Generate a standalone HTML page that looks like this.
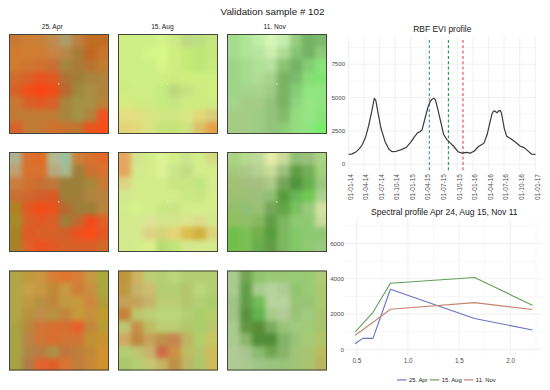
<!DOCTYPE html>
<html><head><meta charset="utf-8"><style>html,body{margin:0;padding:0;background:#fff;width:550px;height:390px;overflow:hidden}svg{display:block}</style></head>
<body>
<svg width="550" height="390" viewBox="0 0 550 390" font-family="Liberation Sans, sans-serif">
<rect width="550" height="390" fill="#fff"/>
<defs><filter id="bl" x="-0.1" y="-0.1" width="1.2" height="1.2" color-interpolation-filters="sRGB"><feGaussianBlur stdDeviation="2.5"/></filter></defs>
<g>
<clipPath id="c00"><rect x="9" y="34" width="100" height="100"/></clipPath>
<g clip-path="url(#c00)"><g filter="url(#bl)" shape-rendering="crispEdges">
<rect x="1.00" y="26.00" width="21.00" height="21.00" fill="#c87934"/>
<rect x="21.50" y="26.00" width="13.00" height="21.00" fill="#d07d34"/>
<rect x="34.00" y="26.00" width="13.00" height="21.00" fill="#c88139"/>
<rect x="46.50" y="26.00" width="13.00" height="21.00" fill="#c08a4c"/>
<rect x="59.00" y="26.00" width="13.00" height="21.00" fill="#ac9c68"/>
<rect x="71.50" y="26.00" width="13.00" height="21.00" fill="#bc8040"/>
<rect x="84.00" y="26.00" width="13.00" height="21.00" fill="#c06e24"/>
<rect x="96.50" y="26.00" width="21.00" height="21.00" fill="#c06e24"/>
<rect x="1.00" y="46.50" width="21.00" height="13.00" fill="#d07b2f"/>
<rect x="21.50" y="46.50" width="13.00" height="13.00" fill="#d07e31"/>
<rect x="34.00" y="46.50" width="13.00" height="13.00" fill="#d07d34"/>
<rect x="46.50" y="46.50" width="13.00" height="13.00" fill="#c88444"/>
<rect x="59.00" y="46.50" width="13.00" height="13.00" fill="#b88848"/>
<rect x="71.50" y="46.50" width="13.00" height="13.00" fill="#a87c39"/>
<rect x="84.00" y="46.50" width="13.00" height="13.00" fill="#c0671f"/>
<rect x="96.50" y="46.50" width="21.00" height="13.00" fill="#c8742a"/>
<rect x="1.00" y="59.00" width="21.00" height="13.00" fill="#d07b2f"/>
<rect x="21.50" y="59.00" width="13.00" height="13.00" fill="#d0762f"/>
<rect x="34.00" y="59.00" width="13.00" height="13.00" fill="#d0712f"/>
<rect x="46.50" y="59.00" width="13.00" height="13.00" fill="#c86f34"/>
<rect x="59.00" y="59.00" width="13.00" height="13.00" fill="#a8853e"/>
<rect x="71.50" y="59.00" width="13.00" height="13.00" fill="#a87c39"/>
<rect x="84.00" y="59.00" width="13.00" height="13.00" fill="#b8732f"/>
<rect x="96.50" y="59.00" width="21.00" height="13.00" fill="#c07c2f"/>
<rect x="1.00" y="71.50" width="21.00" height="13.00" fill="#d06c2f"/>
<rect x="21.50" y="71.50" width="13.00" height="13.00" fill="#d8612a"/>
<rect x="34.00" y="71.50" width="13.00" height="13.00" fill="#e8541f"/>
<rect x="46.50" y="71.50" width="13.00" height="13.00" fill="#e05a24"/>
<rect x="59.00" y="71.50" width="13.00" height="13.00" fill="#b07234"/>
<rect x="71.50" y="71.50" width="13.00" height="13.00" fill="#a07e39"/>
<rect x="84.00" y="71.50" width="13.00" height="13.00" fill="#a8853e"/>
<rect x="96.50" y="71.50" width="21.00" height="13.00" fill="#b0833e"/>
<rect x="1.00" y="84.00" width="21.00" height="13.00" fill="#d8612a"/>
<rect x="21.50" y="84.00" width="13.00" height="13.00" fill="#f0501a"/>
<rect x="34.00" y="84.00" width="13.00" height="13.00" fill="#f84715"/>
<rect x="46.50" y="84.00" width="13.00" height="13.00" fill="#f04d1a"/>
<rect x="59.00" y="84.00" width="13.00" height="13.00" fill="#b86a2f"/>
<rect x="71.50" y="84.00" width="13.00" height="13.00" fill="#a0883e"/>
<rect x="84.00" y="84.00" width="13.00" height="13.00" fill="#a88f44"/>
<rect x="96.50" y="84.00" width="21.00" height="13.00" fill="#b0833e"/>
<rect x="1.00" y="96.50" width="21.00" height="13.00" fill="#c87934"/>
<rect x="21.50" y="96.50" width="13.00" height="13.00" fill="#d8612a"/>
<rect x="34.00" y="96.50" width="13.00" height="13.00" fill="#e05a24"/>
<rect x="46.50" y="96.50" width="13.00" height="13.00" fill="#d8612a"/>
<rect x="59.00" y="96.50" width="13.00" height="13.00" fill="#a8853e"/>
<rect x="71.50" y="96.50" width="13.00" height="13.00" fill="#a09344"/>
<rect x="84.00" y="96.50" width="13.00" height="13.00" fill="#a88f44"/>
<rect x="96.50" y="96.50" width="21.00" height="13.00" fill="#b88339"/>
<rect x="1.00" y="109.00" width="21.00" height="13.00" fill="#c07a34"/>
<rect x="21.50" y="109.00" width="13.00" height="13.00" fill="#c07a34"/>
<rect x="34.00" y="109.00" width="13.00" height="13.00" fill="#c07a34"/>
<rect x="46.50" y="109.00" width="13.00" height="13.00" fill="#c07a34"/>
<rect x="59.00" y="109.00" width="13.00" height="13.00" fill="#a8853e"/>
<rect x="71.50" y="109.00" width="13.00" height="13.00" fill="#a09344"/>
<rect x="84.00" y="109.00" width="13.00" height="13.00" fill="#b0833e"/>
<rect x="96.50" y="109.00" width="21.00" height="13.00" fill="#f0531f"/>
<rect x="1.00" y="121.50" width="21.00" height="21.00" fill="#d8612a"/>
<rect x="21.50" y="121.50" width="13.00" height="21.00" fill="#c07a34"/>
<rect x="34.00" y="121.50" width="13.00" height="21.00" fill="#c07a34"/>
<rect x="46.50" y="121.50" width="13.00" height="21.00" fill="#d0712f"/>
<rect x="59.00" y="121.50" width="13.00" height="21.00" fill="#c8722f"/>
<rect x="71.50" y="121.50" width="13.00" height="21.00" fill="#c0732f"/>
<rect x="84.00" y="121.50" width="13.00" height="21.00" fill="#e8541f"/>
<rect x="96.50" y="121.50" width="21.00" height="21.00" fill="#f84f1a"/>
</g></g>
<circle cx="58.7" cy="83.8" r="0.9" fill="#fff0c8" fill-opacity="0.6"/>
<rect x="9.5" y="34.5" width="99" height="99" fill="none" stroke="#45453c" stroke-width="1"/>
</g>
<g>
<clipPath id="c01"><rect x="118" y="34" width="100" height="100"/></clipPath>
<g clip-path="url(#c01)"><g filter="url(#bl)" shape-rendering="crispEdges">
<rect x="110.00" y="26.00" width="21.00" height="21.00" fill="#ceef85"/>
<rect x="130.50" y="26.00" width="13.00" height="21.00" fill="#ceef85"/>
<rect x="143.00" y="26.00" width="13.00" height="21.00" fill="#ceef85"/>
<rect x="155.50" y="26.00" width="13.00" height="21.00" fill="#d2f489"/>
<rect x="168.00" y="26.00" width="13.00" height="21.00" fill="#ceeb86"/>
<rect x="180.50" y="26.00" width="13.00" height="21.00" fill="#bdda83"/>
<rect x="193.00" y="26.00" width="13.00" height="21.00" fill="#bddf83"/>
<rect x="205.50" y="26.00" width="21.00" height="21.00" fill="#c5e782"/>
<rect x="110.00" y="46.50" width="21.00" height="13.00" fill="#ceef85"/>
<rect x="130.50" y="46.50" width="13.00" height="13.00" fill="#ceef85"/>
<rect x="143.00" y="46.50" width="13.00" height="13.00" fill="#d2f489"/>
<rect x="155.50" y="46.50" width="13.00" height="13.00" fill="#d6f889"/>
<rect x="168.00" y="46.50" width="13.00" height="13.00" fill="#ceef80"/>
<rect x="180.50" y="46.50" width="13.00" height="13.00" fill="#c5eb77"/>
<rect x="193.00" y="46.50" width="13.00" height="13.00" fill="#bce778"/>
<rect x="205.50" y="46.50" width="21.00" height="13.00" fill="#c5e778"/>
<rect x="110.00" y="59.00" width="21.00" height="13.00" fill="#ceef85"/>
<rect x="130.50" y="59.00" width="13.00" height="13.00" fill="#ceef85"/>
<rect x="143.00" y="59.00" width="13.00" height="13.00" fill="#ceef85"/>
<rect x="155.50" y="59.00" width="13.00" height="13.00" fill="#d7f489"/>
<rect x="168.00" y="59.00" width="13.00" height="13.00" fill="#ceef80"/>
<rect x="180.50" y="59.00" width="13.00" height="13.00" fill="#c5eb77"/>
<rect x="193.00" y="59.00" width="13.00" height="13.00" fill="#bce778"/>
<rect x="205.50" y="59.00" width="21.00" height="13.00" fill="#c5eb81"/>
<rect x="110.00" y="71.50" width="21.00" height="13.00" fill="#ceef85"/>
<rect x="130.50" y="71.50" width="13.00" height="13.00" fill="#ceef85"/>
<rect x="143.00" y="71.50" width="13.00" height="13.00" fill="#ceef85"/>
<rect x="155.50" y="71.50" width="13.00" height="13.00" fill="#ceef85"/>
<rect x="168.00" y="71.50" width="13.00" height="13.00" fill="#ceeb81"/>
<rect x="180.50" y="71.50" width="13.00" height="13.00" fill="#ceef80"/>
<rect x="193.00" y="71.50" width="13.00" height="13.00" fill="#ceef80"/>
<rect x="205.50" y="71.50" width="21.00" height="13.00" fill="#ceef80"/>
<rect x="110.00" y="84.00" width="21.00" height="13.00" fill="#ceeb81"/>
<rect x="130.50" y="84.00" width="13.00" height="13.00" fill="#ceef85"/>
<rect x="143.00" y="84.00" width="13.00" height="13.00" fill="#ceef85"/>
<rect x="155.50" y="84.00" width="13.00" height="13.00" fill="#c5eb81"/>
<rect x="168.00" y="84.00" width="13.00" height="13.00" fill="#bdda7a"/>
<rect x="180.50" y="84.00" width="13.00" height="13.00" fill="#c6e382"/>
<rect x="193.00" y="84.00" width="13.00" height="13.00" fill="#ceeb81"/>
<rect x="205.50" y="84.00" width="21.00" height="13.00" fill="#ceef80"/>
<rect x="110.00" y="96.50" width="21.00" height="13.00" fill="#d8eb81"/>
<rect x="130.50" y="96.50" width="13.00" height="13.00" fill="#ceeb81"/>
<rect x="143.00" y="96.50" width="13.00" height="13.00" fill="#ceeb81"/>
<rect x="155.50" y="96.50" width="13.00" height="13.00" fill="#c5eb81"/>
<rect x="168.00" y="96.50" width="13.00" height="13.00" fill="#c5e782"/>
<rect x="180.50" y="96.50" width="13.00" height="13.00" fill="#ceeb81"/>
<rect x="193.00" y="96.50" width="13.00" height="13.00" fill="#ceeb81"/>
<rect x="205.50" y="96.50" width="21.00" height="13.00" fill="#ceeb81"/>
<rect x="110.00" y="109.00" width="21.00" height="13.00" fill="#e3de82"/>
<rect x="130.50" y="109.00" width="13.00" height="13.00" fill="#e3de82"/>
<rect x="143.00" y="109.00" width="13.00" height="13.00" fill="#d9e382"/>
<rect x="155.50" y="109.00" width="13.00" height="13.00" fill="#cfe782"/>
<rect x="168.00" y="109.00" width="13.00" height="13.00" fill="#cfe782"/>
<rect x="180.50" y="109.00" width="13.00" height="13.00" fill="#d9e782"/>
<rect x="193.00" y="109.00" width="13.00" height="13.00" fill="#e3d979"/>
<rect x="205.50" y="109.00" width="21.00" height="13.00" fill="#d8cc78"/>
<rect x="110.00" y="121.50" width="21.00" height="21.00" fill="#e3d479"/>
<rect x="130.50" y="121.50" width="13.00" height="21.00" fill="#e3d979"/>
<rect x="143.00" y="121.50" width="13.00" height="21.00" fill="#d9e382"/>
<rect x="155.50" y="121.50" width="13.00" height="21.00" fill="#c6e379"/>
<rect x="168.00" y="121.50" width="13.00" height="21.00" fill="#c6e379"/>
<rect x="180.50" y="121.50" width="13.00" height="21.00" fill="#cfe382"/>
<rect x="193.00" y="121.50" width="13.00" height="21.00" fill="#dcc068"/>
<rect x="205.50" y="121.50" width="21.00" height="21.00" fill="#e8a048"/>
</g></g>
<circle cx="167.7" cy="83.8" r="0.9" fill="#fff0c8" fill-opacity="0.6"/>
<rect x="118.5" y="34.5" width="99" height="99" fill="none" stroke="#45453c" stroke-width="1"/>
</g>
<g>
<clipPath id="c02"><rect x="227" y="34" width="100" height="100"/></clipPath>
<g clip-path="url(#c02)"><g filter="url(#bl)" shape-rendering="crispEdges">
<rect x="219.00" y="26.00" width="21.00" height="21.00" fill="#a6dc8e"/>
<rect x="239.50" y="26.00" width="13.00" height="21.00" fill="#aee597"/>
<rect x="252.00" y="26.00" width="13.00" height="21.00" fill="#bfeda7"/>
<rect x="264.50" y="26.00" width="13.00" height="21.00" fill="#d7f6b8"/>
<rect x="277.00" y="26.00" width="13.00" height="21.00" fill="#c6edaf"/>
<rect x="289.50" y="26.00" width="13.00" height="21.00" fill="#95cc7e"/>
<rect x="302.00" y="26.00" width="13.00" height="21.00" fill="#74b264"/>
<rect x="314.50" y="26.00" width="21.00" height="21.00" fill="#7cbb6d"/>
<rect x="219.00" y="46.50" width="21.00" height="13.00" fill="#a6dc8e"/>
<rect x="239.50" y="46.50" width="13.00" height="13.00" fill="#aee597"/>
<rect x="252.00" y="46.50" width="13.00" height="13.00" fill="#b6e59f"/>
<rect x="264.50" y="46.50" width="13.00" height="13.00" fill="#ceedaf"/>
<rect x="277.00" y="46.50" width="13.00" height="13.00" fill="#aedc96"/>
<rect x="289.50" y="46.50" width="13.00" height="13.00" fill="#85c375"/>
<rect x="302.00" y="46.50" width="13.00" height="13.00" fill="#74b264"/>
<rect x="314.50" y="46.50" width="21.00" height="13.00" fill="#8dcc76"/>
<rect x="219.00" y="59.00" width="21.00" height="13.00" fill="#9dd486"/>
<rect x="239.50" y="59.00" width="13.00" height="13.00" fill="#a6dc8e"/>
<rect x="252.00" y="59.00" width="13.00" height="13.00" fill="#aee197"/>
<rect x="264.50" y="59.00" width="13.00" height="13.00" fill="#b6e19e"/>
<rect x="277.00" y="59.00" width="13.00" height="13.00" fill="#8cc375"/>
<rect x="289.50" y="59.00" width="13.00" height="13.00" fill="#74b264"/>
<rect x="302.00" y="59.00" width="13.00" height="13.00" fill="#85cc76"/>
<rect x="314.50" y="59.00" width="21.00" height="13.00" fill="#87e578"/>
<rect x="219.00" y="71.50" width="21.00" height="13.00" fill="#9dd486"/>
<rect x="239.50" y="71.50" width="13.00" height="13.00" fill="#a6dc8e"/>
<rect x="252.00" y="71.50" width="13.00" height="13.00" fill="#aedc96"/>
<rect x="264.50" y="71.50" width="13.00" height="13.00" fill="#a5d48e"/>
<rect x="277.00" y="71.50" width="13.00" height="13.00" fill="#7bb264"/>
<rect x="289.50" y="71.50" width="13.00" height="13.00" fill="#7cbb6d"/>
<rect x="302.00" y="71.50" width="13.00" height="13.00" fill="#87dc77"/>
<rect x="314.50" y="71.50" width="21.00" height="13.00" fill="#80e570"/>
<rect x="219.00" y="84.00" width="21.00" height="13.00" fill="#9dd486"/>
<rect x="239.50" y="84.00" width="13.00" height="13.00" fill="#a5d48e"/>
<rect x="252.00" y="84.00" width="13.00" height="13.00" fill="#a5d48e"/>
<rect x="264.50" y="84.00" width="13.00" height="13.00" fill="#9dcc85"/>
<rect x="277.00" y="84.00" width="13.00" height="13.00" fill="#7bb264"/>
<rect x="289.50" y="84.00" width="13.00" height="13.00" fill="#85cc76"/>
<rect x="302.00" y="84.00" width="13.00" height="13.00" fill="#8fe580"/>
<rect x="314.50" y="84.00" width="21.00" height="13.00" fill="#8fe580"/>
<rect x="219.00" y="96.50" width="21.00" height="13.00" fill="#a5d48e"/>
<rect x="239.50" y="96.50" width="13.00" height="13.00" fill="#a5cc85"/>
<rect x="252.00" y="96.50" width="13.00" height="13.00" fill="#a5cc85"/>
<rect x="264.50" y="96.50" width="13.00" height="13.00" fill="#94c37d"/>
<rect x="277.00" y="96.50" width="13.00" height="13.00" fill="#7bb264"/>
<rect x="289.50" y="96.50" width="13.00" height="13.00" fill="#8ed47e"/>
<rect x="302.00" y="96.50" width="13.00" height="13.00" fill="#97e587"/>
<rect x="314.50" y="96.50" width="21.00" height="13.00" fill="#8fe580"/>
<rect x="219.00" y="109.00" width="21.00" height="13.00" fill="#a5cc85"/>
<rect x="239.50" y="109.00" width="13.00" height="13.00" fill="#a5cc85"/>
<rect x="252.00" y="109.00" width="13.00" height="13.00" fill="#9dcc85"/>
<rect x="264.50" y="109.00" width="13.00" height="13.00" fill="#94c37d"/>
<rect x="277.00" y="109.00" width="13.00" height="13.00" fill="#84bb6d"/>
<rect x="289.50" y="109.00" width="13.00" height="13.00" fill="#96dc7f"/>
<rect x="302.00" y="109.00" width="13.00" height="13.00" fill="#97e587"/>
<rect x="314.50" y="109.00" width="21.00" height="13.00" fill="#87e578"/>
<rect x="219.00" y="121.50" width="21.00" height="21.00" fill="#a5cc85"/>
<rect x="239.50" y="121.50" width="13.00" height="21.00" fill="#a5cc85"/>
<rect x="252.00" y="121.50" width="13.00" height="21.00" fill="#9dcc85"/>
<rect x="264.50" y="121.50" width="13.00" height="21.00" fill="#94c37d"/>
<rect x="277.00" y="121.50" width="13.00" height="21.00" fill="#8dcc76"/>
<rect x="289.50" y="121.50" width="13.00" height="21.00" fill="#96dc7f"/>
<rect x="302.00" y="121.50" width="13.00" height="21.00" fill="#8fe580"/>
<rect x="314.50" y="121.50" width="21.00" height="21.00" fill="#78ed69"/>
</g></g>
<circle cx="276.7" cy="83.8" r="0.9" fill="#fff0c8" fill-opacity="0.6"/>
<rect x="227.5" y="34.5" width="99" height="99" fill="none" stroke="#45453c" stroke-width="1"/>
</g>
<g>
<clipPath id="c10"><rect x="9" y="152" width="100" height="100"/></clipPath>
<g clip-path="url(#c10)"><g filter="url(#bl)" shape-rendering="crispEdges">
<rect x="1.00" y="144.00" width="21.00" height="21.00" fill="#b0b090"/>
<rect x="21.50" y="144.00" width="13.00" height="21.00" fill="#d9712f"/>
<rect x="34.00" y="144.00" width="13.00" height="21.00" fill="#e16c24"/>
<rect x="46.50" y="144.00" width="13.00" height="21.00" fill="#b4b890"/>
<rect x="59.00" y="144.00" width="13.00" height="21.00" fill="#a0c09c"/>
<rect x="71.50" y="144.00" width="13.00" height="21.00" fill="#c8823a"/>
<rect x="84.00" y="144.00" width="13.00" height="21.00" fill="#d9712f"/>
<rect x="96.50" y="144.00" width="21.00" height="21.00" fill="#e16929"/>
<rect x="1.00" y="164.50" width="21.00" height="13.00" fill="#c0a070"/>
<rect x="21.50" y="164.50" width="13.00" height="13.00" fill="#d9712f"/>
<rect x="34.00" y="164.50" width="13.00" height="13.00" fill="#d9712f"/>
<rect x="46.50" y="164.50" width="13.00" height="13.00" fill="#b8a880"/>
<rect x="59.00" y="164.50" width="13.00" height="13.00" fill="#a8b890"/>
<rect x="71.50" y="164.50" width="13.00" height="13.00" fill="#9e7f3a"/>
<rect x="84.00" y="164.50" width="13.00" height="13.00" fill="#c8722f"/>
<rect x="96.50" y="164.50" width="21.00" height="13.00" fill="#d9712f"/>
<rect x="1.00" y="177.00" width="21.00" height="13.00" fill="#c87f3f"/>
<rect x="21.50" y="177.00" width="13.00" height="13.00" fill="#d0712f"/>
<rect x="34.00" y="177.00" width="13.00" height="13.00" fill="#c86f34"/>
<rect x="46.50" y="177.00" width="13.00" height="13.00" fill="#c0783a"/>
<rect x="59.00" y="177.00" width="13.00" height="13.00" fill="#9e7f3a"/>
<rect x="71.50" y="177.00" width="13.00" height="13.00" fill="#9e7f3a"/>
<rect x="84.00" y="177.00" width="13.00" height="13.00" fill="#a6883a"/>
<rect x="96.50" y="177.00" width="21.00" height="13.00" fill="#c87a34"/>
<rect x="1.00" y="189.50" width="21.00" height="13.00" fill="#c86f34"/>
<rect x="21.50" y="189.50" width="13.00" height="13.00" fill="#d0672f"/>
<rect x="34.00" y="189.50" width="13.00" height="13.00" fill="#d06029"/>
<rect x="46.50" y="189.50" width="13.00" height="13.00" fill="#d95924"/>
<rect x="59.00" y="189.50" width="13.00" height="13.00" fill="#9e7f3a"/>
<rect x="71.50" y="189.50" width="13.00" height="13.00" fill="#9e7f3a"/>
<rect x="84.00" y="189.50" width="13.00" height="13.00" fill="#af843f"/>
<rect x="96.50" y="189.50" width="21.00" height="13.00" fill="#b7823f"/>
<rect x="1.00" y="202.00" width="21.00" height="13.00" fill="#af8224"/>
<rect x="21.50" y="202.00" width="13.00" height="13.00" fill="#e15924"/>
<rect x="34.00" y="202.00" width="13.00" height="13.00" fill="#f24e19"/>
<rect x="46.50" y="202.00" width="13.00" height="13.00" fill="#ea521e"/>
<rect x="59.00" y="202.00" width="13.00" height="13.00" fill="#b7692f"/>
<rect x="71.50" y="202.00" width="13.00" height="13.00" fill="#9e7f3a"/>
<rect x="84.00" y="202.00" width="13.00" height="13.00" fill="#9e7f3a"/>
<rect x="96.50" y="202.00" width="21.00" height="13.00" fill="#b7843a"/>
<rect x="1.00" y="214.50" width="21.00" height="13.00" fill="#a68c29"/>
<rect x="21.50" y="214.50" width="13.00" height="13.00" fill="#d96029"/>
<rect x="34.00" y="214.50" width="13.00" height="13.00" fill="#e15924"/>
<rect x="46.50" y="214.50" width="13.00" height="13.00" fill="#d96029"/>
<rect x="59.00" y="214.50" width="13.00" height="13.00" fill="#9e7f3a"/>
<rect x="71.50" y="214.50" width="13.00" height="13.00" fill="#c0692f"/>
<rect x="84.00" y="214.50" width="13.00" height="13.00" fill="#f24c19"/>
<rect x="96.50" y="214.50" width="21.00" height="13.00" fill="#e16029"/>
<rect x="1.00" y="227.00" width="21.00" height="13.00" fill="#a68324"/>
<rect x="21.50" y="227.00" width="13.00" height="13.00" fill="#e15924"/>
<rect x="34.00" y="227.00" width="13.00" height="13.00" fill="#d96029"/>
<rect x="46.50" y="227.00" width="13.00" height="13.00" fill="#d96029"/>
<rect x="59.00" y="227.00" width="13.00" height="13.00" fill="#d06029"/>
<rect x="71.50" y="227.00" width="13.00" height="13.00" fill="#ea521e"/>
<rect x="84.00" y="227.00" width="13.00" height="13.00" fill="#fa4c19"/>
<rect x="96.50" y="227.00" width="21.00" height="13.00" fill="#e15924"/>
<rect x="1.00" y="239.50" width="21.00" height="21.00" fill="#a68324"/>
<rect x="21.50" y="239.50" width="13.00" height="21.00" fill="#e16029"/>
<rect x="34.00" y="239.50" width="13.00" height="21.00" fill="#ea521e"/>
<rect x="46.50" y="239.50" width="13.00" height="21.00" fill="#e15924"/>
<rect x="59.00" y="239.50" width="13.00" height="21.00" fill="#d96029"/>
<rect x="71.50" y="239.50" width="13.00" height="21.00" fill="#d96029"/>
<rect x="84.00" y="239.50" width="13.00" height="21.00" fill="#d96029"/>
<rect x="96.50" y="239.50" width="21.00" height="21.00" fill="#d06a29"/>
</g></g>
<circle cx="58.7" cy="201.8" r="0.9" fill="#fff0c8" fill-opacity="0.6"/>
<rect x="9.5" y="152.5" width="99" height="99" fill="none" stroke="#45453c" stroke-width="1"/>
</g>
<g>
<clipPath id="c11"><rect x="118" y="152" width="100" height="100"/></clipPath>
<g clip-path="url(#c11)"><g filter="url(#bl)" shape-rendering="crispEdges">
<rect x="110.00" y="144.00" width="21.00" height="21.00" fill="#e5a75f"/>
<rect x="130.50" y="144.00" width="13.00" height="21.00" fill="#d3e58c"/>
<rect x="143.00" y="144.00" width="13.00" height="21.00" fill="#d3ed8b"/>
<rect x="155.50" y="144.00" width="13.00" height="21.00" fill="#dbf294"/>
<rect x="168.00" y="144.00" width="13.00" height="21.00" fill="#d3ed8b"/>
<rect x="180.50" y="144.00" width="13.00" height="21.00" fill="#cae58c"/>
<rect x="193.00" y="144.00" width="13.00" height="21.00" fill="#d3ed8b"/>
<rect x="205.50" y="144.00" width="21.00" height="21.00" fill="#d4dc83"/>
<rect x="110.00" y="164.50" width="21.00" height="13.00" fill="#e5a75f"/>
<rect x="130.50" y="164.50" width="13.00" height="13.00" fill="#d3e98c"/>
<rect x="143.00" y="164.50" width="13.00" height="13.00" fill="#d3ed8b"/>
<rect x="155.50" y="164.50" width="13.00" height="13.00" fill="#dbf294"/>
<rect x="168.00" y="164.50" width="13.00" height="13.00" fill="#cae58c"/>
<rect x="180.50" y="164.50" width="13.00" height="13.00" fill="#c2dc83"/>
<rect x="193.00" y="164.50" width="13.00" height="13.00" fill="#d3ed8b"/>
<rect x="205.50" y="164.50" width="21.00" height="13.00" fill="#d3ed8b"/>
<rect x="110.00" y="177.00" width="21.00" height="13.00" fill="#dcd483"/>
<rect x="130.50" y="177.00" width="13.00" height="13.00" fill="#d3ed8b"/>
<rect x="143.00" y="177.00" width="13.00" height="13.00" fill="#d3ed8b"/>
<rect x="155.50" y="177.00" width="13.00" height="13.00" fill="#d3ed8b"/>
<rect x="168.00" y="177.00" width="13.00" height="13.00" fill="#cae583"/>
<rect x="180.50" y="177.00" width="13.00" height="13.00" fill="#cae583"/>
<rect x="193.00" y="177.00" width="13.00" height="13.00" fill="#c1e583"/>
<rect x="205.50" y="177.00" width="21.00" height="13.00" fill="#d3ed8b"/>
<rect x="110.00" y="189.50" width="21.00" height="13.00" fill="#d3e98c"/>
<rect x="130.50" y="189.50" width="13.00" height="13.00" fill="#d3ed8b"/>
<rect x="143.00" y="189.50" width="13.00" height="13.00" fill="#d3ed8b"/>
<rect x="155.50" y="189.50" width="13.00" height="13.00" fill="#d3ed8b"/>
<rect x="168.00" y="189.50" width="13.00" height="13.00" fill="#d3ed8b"/>
<rect x="180.50" y="189.50" width="13.00" height="13.00" fill="#cae983"/>
<rect x="193.00" y="189.50" width="13.00" height="13.00" fill="#cae583"/>
<rect x="205.50" y="189.50" width="21.00" height="13.00" fill="#d3ed8b"/>
<rect x="110.00" y="202.00" width="21.00" height="13.00" fill="#d3ed8b"/>
<rect x="130.50" y="202.00" width="13.00" height="13.00" fill="#d3f28b"/>
<rect x="143.00" y="202.00" width="13.00" height="13.00" fill="#d3ed8b"/>
<rect x="155.50" y="202.00" width="13.00" height="13.00" fill="#cae983"/>
<rect x="168.00" y="202.00" width="13.00" height="13.00" fill="#cae583"/>
<rect x="180.50" y="202.00" width="13.00" height="13.00" fill="#d3ed8b"/>
<rect x="193.00" y="202.00" width="13.00" height="13.00" fill="#d3ed8b"/>
<rect x="205.50" y="202.00" width="21.00" height="13.00" fill="#d3ed8b"/>
<rect x="110.00" y="214.50" width="21.00" height="13.00" fill="#d3e98c"/>
<rect x="130.50" y="214.50" width="13.00" height="13.00" fill="#d3e98c"/>
<rect x="143.00" y="214.50" width="13.00" height="13.00" fill="#dce595"/>
<rect x="155.50" y="214.50" width="13.00" height="13.00" fill="#d3e58c"/>
<rect x="168.00" y="214.50" width="13.00" height="13.00" fill="#d3e58c"/>
<rect x="180.50" y="214.50" width="13.00" height="13.00" fill="#dce58c"/>
<rect x="193.00" y="214.50" width="13.00" height="13.00" fill="#dcdc8c"/>
<rect x="205.50" y="214.50" width="21.00" height="13.00" fill="#d3e98c"/>
<rect x="110.00" y="227.00" width="21.00" height="13.00" fill="#d3e98c"/>
<rect x="130.50" y="227.00" width="13.00" height="13.00" fill="#d3e98c"/>
<rect x="143.00" y="227.00" width="13.00" height="13.00" fill="#dcd483"/>
<rect x="155.50" y="227.00" width="13.00" height="13.00" fill="#d4d47b"/>
<rect x="168.00" y="227.00" width="13.00" height="13.00" fill="#e5d37a"/>
<rect x="180.50" y="227.00" width="13.00" height="13.00" fill="#dcbd4e"/>
<rect x="193.00" y="227.00" width="13.00" height="13.00" fill="#d0b13d"/>
<rect x="205.50" y="227.00" width="21.00" height="13.00" fill="#dcd47b"/>
<rect x="110.00" y="239.50" width="21.00" height="21.00" fill="#d3e98c"/>
<rect x="130.50" y="239.50" width="13.00" height="21.00" fill="#d3ed8b"/>
<rect x="143.00" y="239.50" width="13.00" height="21.00" fill="#dced8b"/>
<rect x="155.50" y="239.50" width="13.00" height="21.00" fill="#b9dc72"/>
<rect x="168.00" y="239.50" width="13.00" height="21.00" fill="#c1e57a"/>
<rect x="180.50" y="239.50" width="13.00" height="21.00" fill="#d3e98c"/>
<rect x="193.00" y="239.50" width="13.00" height="21.00" fill="#d3e98c"/>
<rect x="205.50" y="239.50" width="21.00" height="21.00" fill="#d3e98c"/>
</g></g>
<circle cx="167.7" cy="201.8" r="0.9" fill="#fff0c8" fill-opacity="0.6"/>
<rect x="118.5" y="152.5" width="99" height="99" fill="none" stroke="#45453c" stroke-width="1"/>
</g>
<g>
<clipPath id="c12"><rect x="227" y="152" width="100" height="100"/></clipPath>
<g clip-path="url(#c12)"><g filter="url(#bl)" shape-rendering="crispEdges">
<rect x="219.00" y="144.00" width="21.00" height="21.00" fill="#acd285"/>
<rect x="239.50" y="144.00" width="13.00" height="21.00" fill="#b5da8e"/>
<rect x="252.00" y="144.00" width="13.00" height="21.00" fill="#c0da99"/>
<rect x="264.50" y="144.00" width="13.00" height="21.00" fill="#e6ecaa"/>
<rect x="277.00" y="144.00" width="13.00" height="21.00" fill="#cada99"/>
<rect x="289.50" y="144.00" width="13.00" height="21.00" fill="#90c074"/>
<rect x="302.00" y="144.00" width="13.00" height="21.00" fill="#9bc07e"/>
<rect x="314.50" y="144.00" width="21.00" height="21.00" fill="#acd285"/>
<rect x="219.00" y="164.50" width="21.00" height="13.00" fill="#a3c97d"/>
<rect x="239.50" y="164.50" width="13.00" height="13.00" fill="#aec987"/>
<rect x="252.00" y="164.50" width="13.00" height="13.00" fill="#b7d290"/>
<rect x="264.50" y="164.50" width="13.00" height="13.00" fill="#cada99"/>
<rect x="277.00" y="164.50" width="13.00" height="13.00" fill="#9bc07e"/>
<rect x="289.50" y="164.50" width="13.00" height="13.00" fill="#629d46"/>
<rect x="302.00" y="164.50" width="13.00" height="13.00" fill="#74ae58"/>
<rect x="314.50" y="164.50" width="21.00" height="13.00" fill="#a2d27b"/>
<rect x="219.00" y="177.00" width="21.00" height="13.00" fill="#a5c074"/>
<rect x="239.50" y="177.00" width="13.00" height="13.00" fill="#a5c07e"/>
<rect x="252.00" y="177.00" width="13.00" height="13.00" fill="#a5c07e"/>
<rect x="264.50" y="177.00" width="13.00" height="13.00" fill="#aec987"/>
<rect x="277.00" y="177.00" width="13.00" height="13.00" fill="#76a659"/>
<rect x="289.50" y="177.00" width="13.00" height="13.00" fill="#4f943d"/>
<rect x="302.00" y="177.00" width="13.00" height="13.00" fill="#69ae4d"/>
<rect x="314.50" y="177.00" width="21.00" height="13.00" fill="#99c97d"/>
<rect x="219.00" y="189.50" width="21.00" height="13.00" fill="#9bc074"/>
<rect x="239.50" y="189.50" width="13.00" height="13.00" fill="#9bc074"/>
<rect x="252.00" y="189.50" width="13.00" height="13.00" fill="#9bc07e"/>
<rect x="264.50" y="189.50" width="13.00" height="13.00" fill="#90c074"/>
<rect x="277.00" y="189.50" width="13.00" height="13.00" fill="#589d3b"/>
<rect x="289.50" y="189.50" width="13.00" height="13.00" fill="#68b756"/>
<rect x="302.00" y="189.50" width="13.00" height="13.00" fill="#6fc952"/>
<rect x="314.50" y="189.50" width="21.00" height="13.00" fill="#acd290"/>
<rect x="219.00" y="202.00" width="21.00" height="13.00" fill="#95c069"/>
<rect x="239.50" y="202.00" width="13.00" height="13.00" fill="#90c074"/>
<rect x="252.00" y="202.00" width="13.00" height="13.00" fill="#9bc074"/>
<rect x="264.50" y="202.00" width="13.00" height="13.00" fill="#76a659"/>
<rect x="277.00" y="202.00" width="13.00" height="13.00" fill="#61a644"/>
<rect x="289.50" y="202.00" width="13.00" height="13.00" fill="#7bc05f"/>
<rect x="302.00" y="202.00" width="13.00" height="13.00" fill="#99c97d"/>
<rect x="314.50" y="202.00" width="21.00" height="13.00" fill="#d3e3a2"/>
<rect x="219.00" y="214.50" width="21.00" height="13.00" fill="#90c05f"/>
<rect x="239.50" y="214.50" width="13.00" height="13.00" fill="#90c069"/>
<rect x="252.00" y="214.50" width="13.00" height="13.00" fill="#87b760"/>
<rect x="264.50" y="214.50" width="13.00" height="13.00" fill="#629d46"/>
<rect x="277.00" y="214.50" width="13.00" height="13.00" fill="#7db760"/>
<rect x="289.50" y="214.50" width="13.00" height="13.00" fill="#8ec972"/>
<rect x="302.00" y="214.50" width="13.00" height="13.00" fill="#8ec972"/>
<rect x="314.50" y="214.50" width="21.00" height="13.00" fill="#cada99"/>
<rect x="219.00" y="227.00" width="21.00" height="13.00" fill="#70c04a"/>
<rect x="239.50" y="227.00" width="13.00" height="13.00" fill="#7bc054"/>
<rect x="252.00" y="227.00" width="13.00" height="13.00" fill="#74ae4d"/>
<rect x="264.50" y="227.00" width="13.00" height="13.00" fill="#589d3b"/>
<rect x="277.00" y="227.00" width="13.00" height="13.00" fill="#7db760"/>
<rect x="289.50" y="227.00" width="13.00" height="13.00" fill="#84c967"/>
<rect x="302.00" y="227.00" width="13.00" height="13.00" fill="#8ec972"/>
<rect x="314.50" y="227.00" width="21.00" height="13.00" fill="#8ec972"/>
<rect x="219.00" y="239.50" width="21.00" height="21.00" fill="#70c04a"/>
<rect x="239.50" y="239.50" width="13.00" height="21.00" fill="#7bc054"/>
<rect x="252.00" y="239.50" width="13.00" height="21.00" fill="#69ae4d"/>
<rect x="264.50" y="239.50" width="13.00" height="21.00" fill="#629d46"/>
<rect x="277.00" y="239.50" width="13.00" height="21.00" fill="#7db760"/>
<rect x="289.50" y="239.50" width="13.00" height="21.00" fill="#84c967"/>
<rect x="302.00" y="239.50" width="13.00" height="21.00" fill="#8ec972"/>
<rect x="314.50" y="239.50" width="21.00" height="21.00" fill="#99c97d"/>
</g></g>
<circle cx="276.7" cy="201.8" r="0.9" fill="#fff0c8" fill-opacity="0.6"/>
<rect x="227.5" y="152.5" width="99" height="99" fill="none" stroke="#45453c" stroke-width="1"/>
</g>
<g>
<clipPath id="c20"><rect x="9" y="270.5" width="100" height="100"/></clipPath>
<g clip-path="url(#c20)"><g filter="url(#bl)" shape-rendering="crispEdges">
<rect x="1.00" y="262.50" width="21.00" height="21.00" fill="#b0a648"/>
<rect x="21.50" y="262.50" width="13.00" height="21.00" fill="#c09a3c"/>
<rect x="34.00" y="262.50" width="13.00" height="21.00" fill="#c89842"/>
<rect x="46.50" y="262.50" width="13.00" height="21.00" fill="#d87e36"/>
<rect x="59.00" y="262.50" width="13.00" height="21.00" fill="#e07630"/>
<rect x="71.50" y="262.50" width="13.00" height="21.00" fill="#d87e36"/>
<rect x="84.00" y="262.50" width="13.00" height="21.00" fill="#c89842"/>
<rect x="96.50" y="262.50" width="21.00" height="21.00" fill="#a8a83c"/>
<rect x="1.00" y="283.00" width="21.00" height="13.00" fill="#b0a648"/>
<rect x="21.50" y="283.00" width="13.00" height="13.00" fill="#c8a148"/>
<rect x="34.00" y="283.00" width="13.00" height="13.00" fill="#c89842"/>
<rect x="46.50" y="283.00" width="13.00" height="13.00" fill="#c08936"/>
<rect x="59.00" y="283.00" width="13.00" height="13.00" fill="#c89842"/>
<rect x="71.50" y="283.00" width="13.00" height="13.00" fill="#d07e36"/>
<rect x="84.00" y="283.00" width="13.00" height="13.00" fill="#c88f42"/>
<rect x="96.50" y="283.00" width="21.00" height="13.00" fill="#a8a83c"/>
<rect x="1.00" y="295.50" width="21.00" height="13.00" fill="#b0a648"/>
<rect x="21.50" y="295.50" width="13.00" height="13.00" fill="#c09942"/>
<rect x="34.00" y="295.50" width="13.00" height="13.00" fill="#b89142"/>
<rect x="46.50" y="295.50" width="13.00" height="13.00" fill="#c0873c"/>
<rect x="59.00" y="295.50" width="13.00" height="13.00" fill="#c09942"/>
<rect x="71.50" y="295.50" width="13.00" height="13.00" fill="#c8993c"/>
<rect x="84.00" y="295.50" width="13.00" height="13.00" fill="#d0863c"/>
<rect x="96.50" y="295.50" width="21.00" height="13.00" fill="#b09d3c"/>
<rect x="1.00" y="308.00" width="21.00" height="13.00" fill="#b0a648"/>
<rect x="21.50" y="308.00" width="13.00" height="13.00" fill="#b8923c"/>
<rect x="34.00" y="308.00" width="13.00" height="13.00" fill="#c08e48"/>
<rect x="46.50" y="308.00" width="13.00" height="13.00" fill="#b8923c"/>
<rect x="59.00" y="308.00" width="13.00" height="13.00" fill="#c0873c"/>
<rect x="71.50" y="308.00" width="13.00" height="13.00" fill="#c8993c"/>
<rect x="84.00" y="308.00" width="13.00" height="13.00" fill="#c8903c"/>
<rect x="96.50" y="308.00" width="21.00" height="13.00" fill="#c09c30"/>
<rect x="1.00" y="320.50" width="21.00" height="13.00" fill="#a8a342"/>
<rect x="21.50" y="320.50" width="13.00" height="13.00" fill="#b8883c"/>
<rect x="34.00" y="320.50" width="13.00" height="13.00" fill="#d07536"/>
<rect x="46.50" y="320.50" width="13.00" height="13.00" fill="#d86e30"/>
<rect x="59.00" y="320.50" width="13.00" height="13.00" fill="#d86e30"/>
<rect x="71.50" y="320.50" width="13.00" height="13.00" fill="#e85e2a"/>
<rect x="84.00" y="320.50" width="13.00" height="13.00" fill="#c0873c"/>
<rect x="96.50" y="320.50" width="21.00" height="13.00" fill="#b89c36"/>
<rect x="1.00" y="333.00" width="21.00" height="13.00" fill="#a8a342"/>
<rect x="21.50" y="333.00" width="13.00" height="13.00" fill="#b88548"/>
<rect x="34.00" y="333.00" width="13.00" height="13.00" fill="#d07536"/>
<rect x="46.50" y="333.00" width="13.00" height="13.00" fill="#d86e30"/>
<rect x="59.00" y="333.00" width="13.00" height="13.00" fill="#d07536"/>
<rect x="71.50" y="333.00" width="13.00" height="13.00" fill="#d07536"/>
<rect x="84.00" y="333.00" width="13.00" height="13.00" fill="#c09236"/>
<rect x="96.50" y="333.00" width="21.00" height="13.00" fill="#c89230"/>
<rect x="1.00" y="345.50" width="21.00" height="13.00" fill="#a8a342"/>
<rect x="21.50" y="345.50" width="13.00" height="13.00" fill="#b08648"/>
<rect x="34.00" y="345.50" width="13.00" height="13.00" fill="#b87d42"/>
<rect x="46.50" y="345.50" width="13.00" height="13.00" fill="#a89442"/>
<rect x="59.00" y="345.50" width="13.00" height="13.00" fill="#c0753c"/>
<rect x="71.50" y="345.50" width="13.00" height="13.00" fill="#c07e3c"/>
<rect x="84.00" y="345.50" width="13.00" height="13.00" fill="#c08936"/>
<rect x="96.50" y="345.50" width="21.00" height="13.00" fill="#d09230"/>
<rect x="1.00" y="358.00" width="21.00" height="21.00" fill="#a8a342"/>
<rect x="21.50" y="358.00" width="13.00" height="21.00" fill="#b07c48"/>
<rect x="34.00" y="358.00" width="13.00" height="21.00" fill="#e06530"/>
<rect x="46.50" y="358.00" width="13.00" height="21.00" fill="#e05e2a"/>
<rect x="59.00" y="358.00" width="13.00" height="21.00" fill="#d87536"/>
<rect x="71.50" y="358.00" width="13.00" height="21.00" fill="#c07e3c"/>
<rect x="84.00" y="358.00" width="13.00" height="21.00" fill="#c88836"/>
<rect x="96.50" y="358.00" width="21.00" height="21.00" fill="#d0932a"/>
</g></g>
<rect x="9.5" y="271.0" width="99" height="99" fill="none" stroke="#45453c" stroke-width="1"/>
</g>
<g>
<clipPath id="c21"><rect x="118" y="270.5" width="100" height="100"/></clipPath>
<g clip-path="url(#c21)"><g filter="url(#bl)" shape-rendering="crispEdges">
<rect x="110.00" y="262.50" width="21.00" height="21.00" fill="#be953a"/>
<rect x="130.50" y="262.50" width="13.00" height="21.00" fill="#ceb361"/>
<rect x="143.00" y="262.50" width="13.00" height="21.00" fill="#bcce73"/>
<rect x="155.50" y="262.50" width="13.00" height="21.00" fill="#b3ce73"/>
<rect x="168.00" y="262.50" width="13.00" height="21.00" fill="#bbd67c"/>
<rect x="180.50" y="262.50" width="13.00" height="21.00" fill="#b3ce73"/>
<rect x="193.00" y="262.50" width="13.00" height="21.00" fill="#b3ce73"/>
<rect x="205.50" y="262.50" width="21.00" height="21.00" fill="#b3ce73"/>
<rect x="110.00" y="283.00" width="21.00" height="13.00" fill="#be993f"/>
<rect x="130.50" y="283.00" width="13.00" height="13.00" fill="#c6b46b"/>
<rect x="143.00" y="283.00" width="13.00" height="13.00" fill="#cebc73"/>
<rect x="155.50" y="283.00" width="13.00" height="13.00" fill="#b3ce73"/>
<rect x="168.00" y="283.00" width="13.00" height="13.00" fill="#b3ce73"/>
<rect x="180.50" y="283.00" width="13.00" height="13.00" fill="#b4c66b"/>
<rect x="193.00" y="283.00" width="13.00" height="13.00" fill="#bbd67c"/>
<rect x="205.50" y="283.00" width="21.00" height="13.00" fill="#b3ce73"/>
<rect x="110.00" y="295.50" width="21.00" height="13.00" fill="#c6a259"/>
<rect x="130.50" y="295.50" width="13.00" height="13.00" fill="#c6a259"/>
<rect x="143.00" y="295.50" width="13.00" height="13.00" fill="#c6b46b"/>
<rect x="155.50" y="295.50" width="13.00" height="13.00" fill="#bcce73"/>
<rect x="168.00" y="295.50" width="13.00" height="13.00" fill="#bcce73"/>
<rect x="180.50" y="295.50" width="13.00" height="13.00" fill="#b4c66b"/>
<rect x="193.00" y="295.50" width="13.00" height="13.00" fill="#b3ce73"/>
<rect x="205.50" y="295.50" width="21.00" height="13.00" fill="#aace6a"/>
<rect x="110.00" y="308.00" width="21.00" height="13.00" fill="#c68239"/>
<rect x="130.50" y="308.00" width="13.00" height="13.00" fill="#bdc66b"/>
<rect x="143.00" y="308.00" width="13.00" height="13.00" fill="#bcce73"/>
<rect x="155.50" y="308.00" width="13.00" height="13.00" fill="#bbd67c"/>
<rect x="168.00" y="308.00" width="13.00" height="13.00" fill="#bbd67c"/>
<rect x="180.50" y="308.00" width="13.00" height="13.00" fill="#b3ce73"/>
<rect x="193.00" y="308.00" width="13.00" height="13.00" fill="#aace6a"/>
<rect x="205.50" y="308.00" width="21.00" height="13.00" fill="#b3ce6a"/>
<rect x="110.00" y="320.50" width="21.00" height="13.00" fill="#bdc674"/>
<rect x="130.50" y="320.50" width="13.00" height="13.00" fill="#c68f47"/>
<rect x="143.00" y="320.50" width="13.00" height="13.00" fill="#bebe63"/>
<rect x="155.50" y="320.50" width="13.00" height="13.00" fill="#bcce73"/>
<rect x="168.00" y="320.50" width="13.00" height="13.00" fill="#bcce73"/>
<rect x="180.50" y="320.50" width="13.00" height="13.00" fill="#b4c66b"/>
<rect x="193.00" y="320.50" width="13.00" height="13.00" fill="#aace6a"/>
<rect x="205.50" y="320.50" width="21.00" height="13.00" fill="#bdc66b"/>
<rect x="110.00" y="333.00" width="21.00" height="13.00" fill="#ceaa61"/>
<rect x="130.50" y="333.00" width="13.00" height="13.00" fill="#be873f"/>
<rect x="143.00" y="333.00" width="13.00" height="13.00" fill="#c6a259"/>
<rect x="155.50" y="333.00" width="13.00" height="13.00" fill="#be9048"/>
<rect x="168.00" y="333.00" width="13.00" height="13.00" fill="#c68650"/>
<rect x="180.50" y="333.00" width="13.00" height="13.00" fill="#beb463"/>
<rect x="193.00" y="333.00" width="13.00" height="13.00" fill="#b3ce6a"/>
<rect x="205.50" y="333.00" width="21.00" height="13.00" fill="#c6c662"/>
<rect x="110.00" y="345.50" width="21.00" height="13.00" fill="#b3ce73"/>
<rect x="130.50" y="345.50" width="13.00" height="13.00" fill="#bdc674"/>
<rect x="143.00" y="345.50" width="13.00" height="13.00" fill="#c6b46b"/>
<rect x="155.50" y="345.50" width="13.00" height="13.00" fill="#ce6a46"/>
<rect x="168.00" y="345.50" width="13.00" height="13.00" fill="#ce8f46"/>
<rect x="180.50" y="345.50" width="13.00" height="13.00" fill="#bebe63"/>
<rect x="193.00" y="345.50" width="13.00" height="13.00" fill="#b4c66b"/>
<rect x="205.50" y="345.50" width="21.00" height="13.00" fill="#cebc58"/>
<rect x="110.00" y="358.00" width="21.00" height="21.00" fill="#abc66b"/>
<rect x="130.50" y="358.00" width="13.00" height="21.00" fill="#b3ce73"/>
<rect x="143.00" y="358.00" width="13.00" height="21.00" fill="#c6c674"/>
<rect x="155.50" y="358.00" width="13.00" height="21.00" fill="#c6b462"/>
<rect x="168.00" y="358.00" width="13.00" height="21.00" fill="#be9048"/>
<rect x="180.50" y="358.00" width="13.00" height="21.00" fill="#beb463"/>
<rect x="193.00" y="358.00" width="13.00" height="21.00" fill="#abc66b"/>
<rect x="205.50" y="358.00" width="21.00" height="21.00" fill="#cebc58"/>
</g></g>
<rect x="118.5" y="271.0" width="99" height="99" fill="none" stroke="#45453c" stroke-width="1"/>
</g>
<g>
<clipPath id="c22"><rect x="227" y="270.5" width="100" height="100"/></clipPath>
<g clip-path="url(#c22)"><g filter="url(#bl)" shape-rendering="crispEdges">
<rect x="219.00" y="262.50" width="21.00" height="21.00" fill="#a9cb8f"/>
<rect x="239.50" y="262.50" width="13.00" height="21.00" fill="#72a54f"/>
<rect x="252.00" y="262.50" width="13.00" height="21.00" fill="#91c46e"/>
<rect x="264.50" y="262.50" width="13.00" height="21.00" fill="#99cb76"/>
<rect x="277.00" y="262.50" width="13.00" height="21.00" fill="#99cb76"/>
<rect x="289.50" y="262.50" width="13.00" height="21.00" fill="#99cb76"/>
<rect x="302.00" y="262.50" width="13.00" height="21.00" fill="#99cb76"/>
<rect x="314.50" y="262.50" width="21.00" height="21.00" fill="#b1cb76"/>
<rect x="219.00" y="283.00" width="21.00" height="13.00" fill="#a9cb8f"/>
<rect x="239.50" y="283.00" width="13.00" height="13.00" fill="#629d48"/>
<rect x="252.00" y="283.00" width="13.00" height="13.00" fill="#a9cb8f"/>
<rect x="264.50" y="283.00" width="13.00" height="13.00" fill="#b9d39e"/>
<rect x="277.00" y="283.00" width="13.00" height="13.00" fill="#b1cb97"/>
<rect x="289.50" y="283.00" width="13.00" height="13.00" fill="#91c46e"/>
<rect x="302.00" y="283.00" width="13.00" height="13.00" fill="#99cb76"/>
<rect x="314.50" y="283.00" width="21.00" height="13.00" fill="#a9cb6e"/>
<rect x="219.00" y="295.50" width="21.00" height="13.00" fill="#a1c487"/>
<rect x="239.50" y="295.50" width="13.00" height="13.00" fill="#629d48"/>
<rect x="252.00" y="295.50" width="13.00" height="13.00" fill="#71bc56"/>
<rect x="264.50" y="295.50" width="13.00" height="13.00" fill="#b9d39e"/>
<rect x="277.00" y="295.50" width="13.00" height="13.00" fill="#b9d39e"/>
<rect x="289.50" y="295.50" width="13.00" height="13.00" fill="#99c477"/>
<rect x="302.00" y="295.50" width="13.00" height="13.00" fill="#99c477"/>
<rect x="314.50" y="295.50" width="21.00" height="13.00" fill="#a9cb6e"/>
<rect x="219.00" y="308.00" width="21.00" height="13.00" fill="#a1c487"/>
<rect x="239.50" y="308.00" width="13.00" height="13.00" fill="#5a9140"/>
<rect x="252.00" y="308.00" width="13.00" height="13.00" fill="#61b44f"/>
<rect x="264.50" y="308.00" width="13.00" height="13.00" fill="#a9cb86"/>
<rect x="277.00" y="308.00" width="13.00" height="13.00" fill="#b1cb97"/>
<rect x="289.50" y="308.00" width="13.00" height="13.00" fill="#99c477"/>
<rect x="302.00" y="308.00" width="13.00" height="13.00" fill="#a1cb7e"/>
<rect x="314.50" y="308.00" width="21.00" height="13.00" fill="#a9c46e"/>
<rect x="219.00" y="320.50" width="21.00" height="13.00" fill="#a9cb8f"/>
<rect x="239.50" y="320.50" width="13.00" height="13.00" fill="#629540"/>
<rect x="252.00" y="320.50" width="13.00" height="13.00" fill="#5b8d38"/>
<rect x="264.50" y="320.50" width="13.00" height="13.00" fill="#7aac5f"/>
<rect x="277.00" y="320.50" width="13.00" height="13.00" fill="#99c477"/>
<rect x="289.50" y="320.50" width="13.00" height="13.00" fill="#a1cb7e"/>
<rect x="302.00" y="320.50" width="13.00" height="13.00" fill="#a1cb76"/>
<rect x="314.50" y="320.50" width="21.00" height="13.00" fill="#a9c46e"/>
<rect x="219.00" y="333.00" width="21.00" height="13.00" fill="#a9cb8f"/>
<rect x="239.50" y="333.00" width="13.00" height="13.00" fill="#89b467"/>
<rect x="252.00" y="333.00" width="13.00" height="13.00" fill="#528d38"/>
<rect x="264.50" y="333.00" width="13.00" height="13.00" fill="#528d38"/>
<rect x="277.00" y="333.00" width="13.00" height="13.00" fill="#81b467"/>
<rect x="289.50" y="333.00" width="13.00" height="13.00" fill="#99c477"/>
<rect x="302.00" y="333.00" width="13.00" height="13.00" fill="#a9cb76"/>
<rect x="314.50" y="333.00" width="21.00" height="13.00" fill="#b1c466"/>
<rect x="219.00" y="345.50" width="21.00" height="13.00" fill="#b1cb97"/>
<rect x="239.50" y="345.50" width="13.00" height="13.00" fill="#a9c48f"/>
<rect x="252.00" y="345.50" width="13.00" height="13.00" fill="#89bc6f"/>
<rect x="264.50" y="345.50" width="13.00" height="13.00" fill="#72a54f"/>
<rect x="277.00" y="345.50" width="13.00" height="13.00" fill="#89b467"/>
<rect x="289.50" y="345.50" width="13.00" height="13.00" fill="#a1c477"/>
<rect x="302.00" y="345.50" width="13.00" height="13.00" fill="#a9c46e"/>
<rect x="314.50" y="345.50" width="21.00" height="13.00" fill="#babc5e"/>
<rect x="219.00" y="358.00" width="21.00" height="21.00" fill="#b1cb97"/>
<rect x="239.50" y="358.00" width="13.00" height="21.00" fill="#a9cb8f"/>
<rect x="252.00" y="358.00" width="13.00" height="21.00" fill="#a1c487"/>
<rect x="264.50" y="358.00" width="13.00" height="21.00" fill="#99c47f"/>
<rect x="277.00" y="358.00" width="13.00" height="21.00" fill="#99c477"/>
<rect x="289.50" y="358.00" width="13.00" height="21.00" fill="#a1c477"/>
<rect x="302.00" y="358.00" width="13.00" height="21.00" fill="#a9c46e"/>
<rect x="314.50" y="358.00" width="21.00" height="21.00" fill="#bab45f"/>
</g></g>
<rect x="227.5" y="271.0" width="99" height="99" fill="none" stroke="#45453c" stroke-width="1"/>
</g>
<text x="272.5" y="14.5" font-size="9.8" text-anchor="middle" fill="#1a1a1a">Validation sample # 102</text>
<text x="52.2" y="28.9" font-size="6.6" text-anchor="middle" fill="#1a1a1a">25. Apr</text>
<text x="162.4" y="28.9" font-size="6.6" text-anchor="middle" fill="#1a1a1a">15. Aug</text>
<text x="274.6" y="28.9" font-size="6.6" text-anchor="middle" fill="#1a1a1a">11. Nov</text>
<line x1="348.6" x2="535.5" y1="147.62" y2="147.62" stroke="#f1f1f1" stroke-width="0.6"/>
<line x1="348.6" x2="535.5" y1="114.25" y2="114.25" stroke="#f1f1f1" stroke-width="0.6"/>
<line x1="348.6" x2="535.5" y1="80.88" y2="80.88" stroke="#f1f1f1" stroke-width="0.6"/>
<line x1="348.6" x2="535.5" y1="47.51" y2="47.51" stroke="#f1f1f1" stroke-width="0.6"/>
<line x1="348.6" x2="535.5" y1="164.30" y2="164.30" stroke="#f1f1f1" stroke-width="1.1"/>
<line x1="348.6" x2="535.5" y1="130.93" y2="130.93" stroke="#f1f1f1" stroke-width="1.1"/>
<line x1="348.6" x2="535.5" y1="97.57" y2="97.57" stroke="#f1f1f1" stroke-width="1.1"/>
<line x1="348.6" x2="535.5" y1="64.20" y2="64.20" stroke="#f1f1f1" stroke-width="1.1"/>
<line x1="348.60" x2="348.60" y1="37" y2="170.5" stroke="#f1f1f1" stroke-width="1.1"/>
<line x1="363.94" x2="363.94" y1="37" y2="170.5" stroke="#f1f1f1" stroke-width="1.1"/>
<line x1="379.45" x2="379.45" y1="37" y2="170.5" stroke="#f1f1f1" stroke-width="1.1"/>
<line x1="395.13" x2="395.13" y1="37" y2="170.5" stroke="#f1f1f1" stroke-width="1.1"/>
<line x1="410.81" x2="410.81" y1="37" y2="170.5" stroke="#f1f1f1" stroke-width="1.1"/>
<line x1="426.15" x2="426.15" y1="37" y2="170.5" stroke="#f1f1f1" stroke-width="1.1"/>
<line x1="441.66" x2="441.66" y1="37" y2="170.5" stroke="#f1f1f1" stroke-width="1.1"/>
<line x1="457.34" x2="457.34" y1="37" y2="170.5" stroke="#f1f1f1" stroke-width="1.1"/>
<line x1="473.02" x2="473.02" y1="37" y2="170.5" stroke="#f1f1f1" stroke-width="1.1"/>
<line x1="488.53" x2="488.53" y1="37" y2="170.5" stroke="#f1f1f1" stroke-width="1.1"/>
<line x1="504.04" x2="504.04" y1="37" y2="170.5" stroke="#f1f1f1" stroke-width="1.1"/>
<line x1="519.72" x2="519.72" y1="37" y2="170.5" stroke="#f1f1f1" stroke-width="1.1"/>
<line x1="535.40" x2="535.40" y1="37" y2="170.5" stroke="#f1f1f1" stroke-width="1.1"/>
<text x="345.2" y="166.45" font-size="6.2" text-anchor="end" fill="#4d4d4d">0</text>
<text x="345.2" y="133.08" font-size="6.2" text-anchor="end" fill="#4d4d4d">2500</text>
<text x="345.2" y="99.72" font-size="6.2" text-anchor="end" fill="#4d4d4d">5000</text>
<text x="345.2" y="66.35" font-size="6.2" text-anchor="end" fill="#4d4d4d">7500</text>
<text transform="translate(352.90,174.0) rotate(-90)" font-size="6.5" text-anchor="end" fill="#4d4d4d">01-01-14</text>
<text transform="translate(368.24,174.0) rotate(-90)" font-size="6.5" text-anchor="end" fill="#4d4d4d">01-04-14</text>
<text transform="translate(383.75,174.0) rotate(-90)" font-size="6.5" text-anchor="end" fill="#4d4d4d">01-07-14</text>
<text transform="translate(399.43,174.0) rotate(-90)" font-size="6.5" text-anchor="end" fill="#4d4d4d">01-10-14</text>
<text transform="translate(415.11,174.0) rotate(-90)" font-size="6.5" text-anchor="end" fill="#4d4d4d">01-01-15</text>
<text transform="translate(430.45,174.0) rotate(-90)" font-size="6.5" text-anchor="end" fill="#4d4d4d">01-04-15</text>
<text transform="translate(445.96,174.0) rotate(-90)" font-size="6.5" text-anchor="end" fill="#4d4d4d">01-07-15</text>
<text transform="translate(461.64,174.0) rotate(-90)" font-size="6.5" text-anchor="end" fill="#4d4d4d">01-10-15</text>
<text transform="translate(477.32,174.0) rotate(-90)" font-size="6.5" text-anchor="end" fill="#4d4d4d">01-01-16</text>
<text transform="translate(492.83,174.0) rotate(-90)" font-size="6.5" text-anchor="end" fill="#4d4d4d">01-04-16</text>
<text transform="translate(508.34,174.0) rotate(-90)" font-size="6.5" text-anchor="end" fill="#4d4d4d">01-07-16</text>
<text transform="translate(524.02,174.0) rotate(-90)" font-size="6.5" text-anchor="end" fill="#4d4d4d">01-10-16</text>
<text transform="translate(539.70,174.0) rotate(-90)" font-size="6.5" text-anchor="end" fill="#4d4d4d">01-01-17</text>
<text x="442.3" y="32" font-size="8.45" text-anchor="middle" fill="#1a1a1a">RBF EVI profile</text>
<line x1="429.3" x2="429.3" y1="40" y2="170.5" stroke="#3b86c0" stroke-width="1.1" stroke-dasharray="3 2.3"/>
<line x1="448.4" x2="448.4" y1="40" y2="170.5" stroke="#2a9455" stroke-width="1.1" stroke-dasharray="3 2.3"/>
<line x1="463.0" x2="463.0" y1="40" y2="170.5" stroke="#e8455e" stroke-width="1.1" stroke-dasharray="3 2.3"/>
<polyline points="348.6,154.5 352.2,153.9 356.3,151.7 359.4,148.6 362.4,144.5 365.5,137.3 368.6,126.0 371.7,111.7 374.3,98.3 375.8,100.4 377.8,111.7 380.9,128.0 385.0,141.4 389.1,149.6 392.2,151.7 396.3,151.3 401.4,149.6 406.5,147.2 410.6,142.4 414.7,136.3 417.8,132.6 420.0,131.8 422.0,130.1 425.1,117.8 428.2,106.5 430.3,101.4 432.3,99.0 434.0,98.3 435.4,99.8 437.4,107.6 440.5,120.9 443.6,134.2 446.7,139.4 449.7,142.4 453.8,146.5 458.0,151.7 462.0,153.1 466.2,152.3 470.3,153.1 474.4,151.0 478.5,146.5 482.6,144.1 484.1,142.9 487.2,134.3 490.3,120.9 492.0,113.8 493.5,111.3 494.5,110.9 495.5,111.5 496.8,112.7 498.0,111.7 499.3,110.5 500.4,110.7 501.5,113.2 502.2,117.0 504.2,128.1 506.7,136.3 510.8,138.8 515.9,142.5 520.0,146.0 524.1,147.6 528.2,151.1 531.7,154.2 535.4,154.4" fill="none" stroke="#3a3a3a" stroke-width="1.2" stroke-linejoin="round"/>
<line x1="345.3" x2="542.0" y1="331.75" y2="331.75" stroke="#f1f1f1" stroke-width="0.6"/>
<line x1="345.3" x2="542.0" y1="296.45" y2="296.45" stroke="#f1f1f1" stroke-width="0.6"/>
<line x1="345.3" x2="542.0" y1="261.15" y2="261.15" stroke="#f1f1f1" stroke-width="0.6"/>
<line x1="345.3" x2="542.0" y1="225.85" y2="225.85" stroke="#f1f1f1" stroke-width="0.6"/>
<line x1="345.3" x2="542.0" y1="349.40" y2="349.40" stroke="#f1f1f1" stroke-width="1.1"/>
<line x1="345.3" x2="542.0" y1="314.10" y2="314.10" stroke="#f1f1f1" stroke-width="1.1"/>
<line x1="345.3" x2="542.0" y1="278.80" y2="278.80" stroke="#f1f1f1" stroke-width="1.1"/>
<line x1="345.3" x2="542.0" y1="243.50" y2="243.50" stroke="#f1f1f1" stroke-width="1.1"/>
<line x1="382.23" x2="382.23" y1="219.6" y2="355.5" stroke="#f1f1f1" stroke-width="0.6"/>
<line x1="433.48" x2="433.48" y1="219.6" y2="355.5" stroke="#f1f1f1" stroke-width="0.6"/>
<line x1="484.73" x2="484.73" y1="219.6" y2="355.5" stroke="#f1f1f1" stroke-width="0.6"/>
<line x1="535.98" x2="535.98" y1="219.6" y2="355.5" stroke="#f1f1f1" stroke-width="0.6"/>
<line x1="356.60" x2="356.60" y1="219.6" y2="355.5" stroke="#f1f1f1" stroke-width="1.1"/>
<line x1="407.85" x2="407.85" y1="219.6" y2="355.5" stroke="#f1f1f1" stroke-width="1.1"/>
<line x1="459.10" x2="459.10" y1="219.6" y2="355.5" stroke="#f1f1f1" stroke-width="1.1"/>
<line x1="510.35" x2="510.35" y1="219.6" y2="355.5" stroke="#f1f1f1" stroke-width="1.1"/>
<text x="343.9" y="351.55" font-size="6.2" text-anchor="end" fill="#4d4d4d">0</text>
<text x="343.9" y="316.25" font-size="6.2" text-anchor="end" fill="#4d4d4d">2000</text>
<text x="343.9" y="280.95" font-size="6.2" text-anchor="end" fill="#4d4d4d">4000</text>
<text x="343.9" y="245.65" font-size="6.2" text-anchor="end" fill="#4d4d4d">6000</text>
<text x="356.90" y="363.1" font-size="6.4" text-anchor="middle" fill="#4d4d4d">0.5</text>
<text x="408.15" y="363.1" font-size="6.4" text-anchor="middle" fill="#4d4d4d">1.0</text>
<text x="459.40" y="363.1" font-size="6.4" text-anchor="middle" fill="#4d4d4d">1.5</text>
<text x="510.65" y="363.1" font-size="6.4" text-anchor="middle" fill="#4d4d4d">2.0</text>
<text x="444.3" y="214.6" font-size="8.55" text-anchor="middle" fill="#1a1a1a">Spectral profile Apr 24, Aug 15, Nov 11</text>
<polyline points="355.1,343.8 362.8,338.4 373.0,338.4 390.4,289.2 474.5,318.5 532.4,330.0" fill="none" stroke="#6874c4" stroke-width="1.1" stroke-linejoin="round"/>
<polyline points="355.1,332.0 362.8,323.6 373.0,312.3 390.4,283.2 474.5,277.5 532.4,305.2" fill="none" stroke="#62a055" stroke-width="1.1" stroke-linejoin="round"/>
<polyline points="355.1,335.3 362.8,329.8 373.0,322.2 390.4,309.3 474.5,302.6 532.4,309.5" fill="none" stroke="#c8856f" stroke-width="1.1" stroke-linejoin="round"/>
<line x1="397" x2="406.5" y1="379.9" y2="379.9" stroke="#6874c4" stroke-width="1.2"/>
<text x="408.9" y="382" font-size="5.9" fill="#1a1a1a">25. Apr</text>
<line x1="429.8" x2="439.2" y1="379.9" y2="379.9" stroke="#62a055" stroke-width="1.2"/>
<text x="441.7" y="382" font-size="5.9" fill="#1a1a1a">15. Aug</text>
<line x1="464" x2="473.4" y1="379.9" y2="379.9" stroke="#c8856f" stroke-width="1.2"/>
<text x="475.8" y="382" font-size="5.9" fill="#1a1a1a">11. Nov</text>
</svg>
</body></html>
